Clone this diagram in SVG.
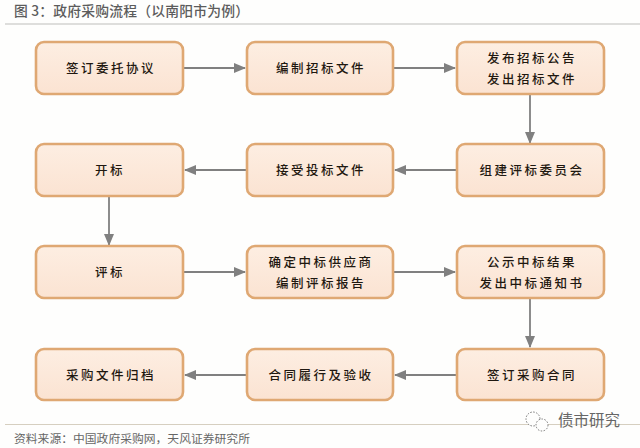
<svg xmlns="http://www.w3.org/2000/svg" width="640" height="448" viewBox="0 0 640 448">
<defs>
<marker id="arr" markerUnits="userSpaceOnUse" markerWidth="12" markerHeight="10" refX="11" refY="5" orient="auto"><path d="M0 0L12 5L0 10Z" fill="#808080"/></marker>
<linearGradient id="boxfill" x1="0" y1="0" x2="0" y2="1"><stop offset="0" stop-color="#fdeee2"/><stop offset="1" stop-color="#fbe3d2"/></linearGradient>
</defs>
<style>
.box{fill:url(#boxfill);stroke:#dfa873;stroke-width:2.6}
.t{font-family:"Noto Sans CJK SC","Noto Sans CJK JP",sans-serif;font-size:12.500px;font-weight:500;fill:#1f1810;text-anchor:middle;letter-spacing:2.500px}
.h{font-family:"Noto Sans CJK SC",sans-serif;fill:#5c5c5c}
.c{stroke:#808080;stroke-width:1.8;fill:none;marker-end:url(#arr)}
</style>
<rect width="640" height="448" fill="#fefefd"/>
<text class="h" x="14" y="15.500" font-weight="500" style="font-size:13.800px;letter-spacing:.2px">图 3：政府采购流程（以南阳市为例）</text>
<line x1="5" y1="24" x2="640" y2="24" stroke="#d3d3d0" stroke-width="1.5"/>
<line x1="5" y1="424.500" x2="640" y2="424.500" stroke="#d6cfc0" stroke-width="1"/>
<text class="h" x="14" y="443" style="font-size:11.800px;fill:#666">资料来源：中国政府采购网，天风证券研究所</text>
<g id="connectors">
<line class="c" x1="184" y1="68" x2="245" y2="68"/>
<line class="c" x1="394" y1="68" x2="455" y2="68"/>
<line class="c" x1="530" y1="95" x2="530" y2="143"/>
<line class="c" x1="456" y1="170" x2="395" y2="170"/>
<line class="c" x1="246" y1="170" x2="185" y2="170"/>
<line class="c" x1="109" y1="197" x2="109" y2="245"/>
<line class="c" x1="184" y1="272" x2="245" y2="272"/>
<line class="c" x1="394" y1="272" x2="455" y2="272"/>
<line class="c" x1="530" y1="299" x2="530" y2="347"/>
<line class="c" x1="456" y1="375" x2="395" y2="375"/>
<line class="c" x1="246" y1="375" x2="185" y2="375"/>
</g>
<g id="n1"><rect class="box" x="36" y="42" width="147" height="52" rx="8"/><text class="t" x="111" y="73">签订委托协议</text></g>
<g id="n2"><rect class="box" x="247" y="42" width="146" height="52" rx="8"/><text class="t" x="321" y="73">编制招标文件</text></g>
<g id="n3"><rect class="box" x="457" y="42" width="147" height="52" rx="8"/><text class="t" x="532" y="63">发布招标公告</text><text class="t" x="532" y="84">发出招标文件</text></g>
<g id="n4"><rect class="box" x="457" y="144" width="147" height="52" rx="8"/><text class="t" x="532" y="175">组建评标委员会</text></g>
<g id="n5"><rect class="box" x="247" y="144" width="146" height="52" rx="8"/><text class="t" x="321" y="175">接受投标文件</text></g>
<g id="n6"><rect class="box" x="36" y="144" width="147" height="52" rx="8"/><text class="t" x="110" y="175">开标</text></g>
<g id="n7"><rect class="box" x="36" y="246" width="147" height="52" rx="8"/><text class="t" x="110" y="277">评标</text></g>
<g id="n8"><rect class="box" x="247" y="246" width="146" height="52" rx="8"/><text class="t" x="321" y="267">确定中标供应商</text><text class="t" x="321" y="288">编制评标报告</text></g>
<g id="n9"><rect class="box" x="457" y="246" width="147" height="52" rx="8"/><text class="t" x="532" y="267">公示中标结果</text><text class="t" x="532" y="288">发出中标通知书</text></g>
<g id="n10"><rect class="box" x="457" y="349" width="147" height="51" rx="8"/><text class="t" x="532" y="380">签订采购合同</text></g>
<g id="n11"><rect class="box" x="247" y="349" width="146" height="51" rx="8"/><text class="t" x="321" y="380">合同履行及验收</text></g>
<g id="n12"><rect class="box" x="36" y="349" width="147" height="51" rx="8"/><text class="t" x="111" y="380">采购文件归档</text></g>
<g id="watermark">
<circle cx="533" cy="419" r="7" fill="#fefefd" stroke="#777" stroke-width="1" stroke-dasharray="1.500 1.500"/>
<circle cx="542" cy="425" r="6" fill="#fefefd" stroke="#777" stroke-width="1" stroke-dasharray="1.500 1.500"/>
<text x="558" y="426" style="font-family:'Noto Sans CJK SC',sans-serif;font-size:15.500px;fill:#666">债市研究</text>
</g>
</svg>
